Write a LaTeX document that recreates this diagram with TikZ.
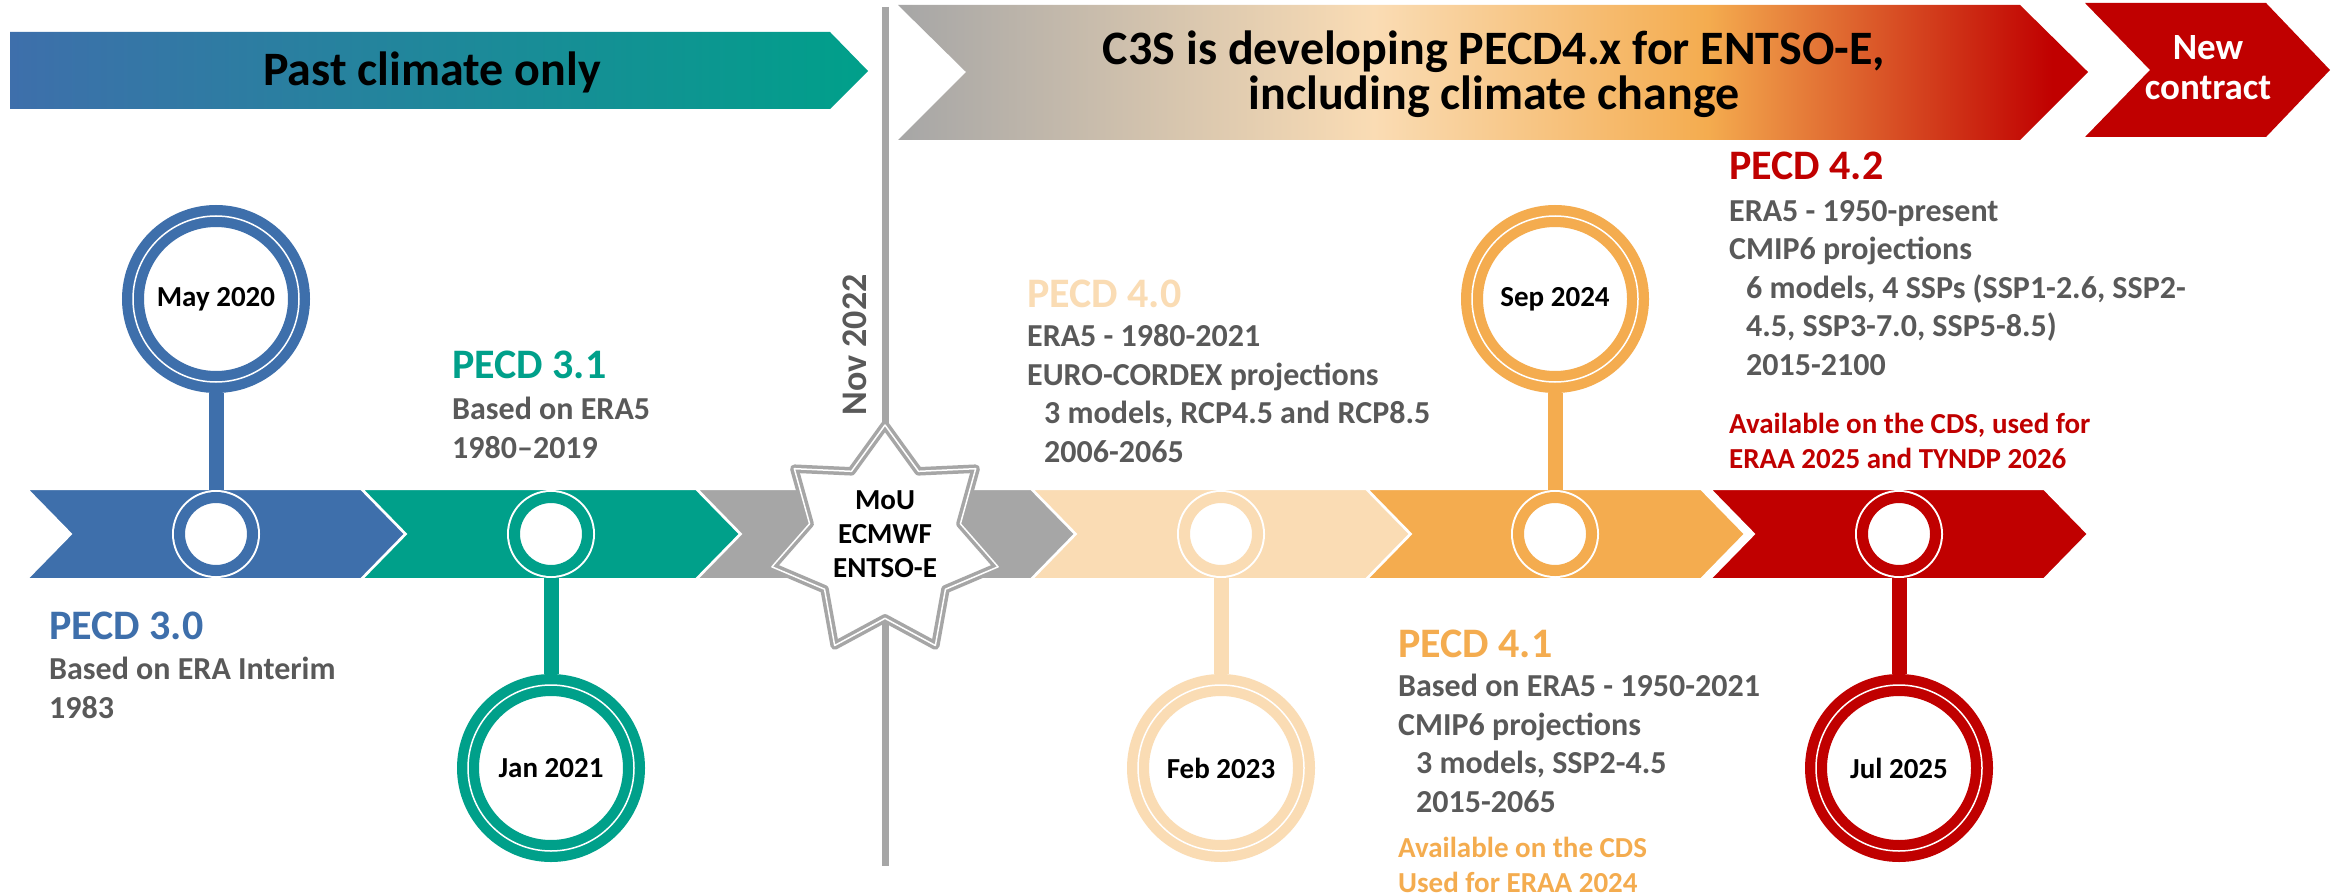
\documentclass[tikz,border=0pt]{standalone}
\usepackage{fontspec}
\setmainfont{Carlito}
\usetikzlibrary{shapes.geometric}

\definecolor{pblue}{HTML}{3E6FAB}
\definecolor{pteal}{HTML}{00A08A}
\definecolor{pgray}{HTML}{A6A6A6}
\definecolor{ppeach}{HTML}{FADCB4}
\definecolor{porange}{HTML}{F4AC4F}
\definecolor{pred}{HTML}{C00000}
\definecolor{txtgray}{HTML}{595959}

\pgfdeclarehorizontalshading{pastshade}{100bp}{color(0bp)=(pblue); color(25bp)=(pblue); color(75bp)=(pteal); color(100bp)=(pteal)}
\pgfdeclarehorizontalshading{climshade}{100bp}{color(0bp)=(pgray); color(25bp)=(pgray); color(45bp)=(ppeach); color(59bp)=(porange); color(73.5bp)=(pred); color(100bp)=(pred)}

\begin{document}
\begin{tikzpicture}[x=1pt,y=-1pt,
    chevron/.style={fill=#1,draw=white,line width=2},
    ring/.style={circle,minimum size=73,inner sep=0,fill=white,draw=white,
        double=#1,double distance=11,line width=2,outer sep=7.5},
    datecirc/.style={circle,minimum size=166,inner sep=0,fill=white,draw=#1,
        double=white,double distance=1.5,line width=10.25,outer sep=11,
        font=\fontsize{29}{35}\selectfont\bfseries},
    stalk/.style={draw=#1,line width=15},
    divider/.style={draw=pgray,line width=7},
    bannertext/.style={inner sep=0,align=center,anchor=base,
        font=\fontsize{48}{45}\selectfont\bfseries},
    pecdtitle/.style={anchor=base west,inner sep=0,text=#1,
        font=\fontsize{42}{50}\selectfont\bfseries},
    pecdbody/.style={anchor=base west,inner sep=0,align=left,text=txtgray,
        font=\fontsize{32}{38.5}\selectfont\bfseries},
    pecdnote/.style={anchor=base west,inner sep=0,align=left,text=#1,
        font=\fontsize{29}{35}\selectfont\bfseries}]
\useasboundingbox[fill=white] (0,0) rectangle (2333,896);

% multi-line nodes sit on the baseline of their last line
\shade[shading=pastshade] (10,32) -- (830,32) -- (868,71) -- (830,109) -- (10,109) -- cycle;
\shade[shading=climshade] (898,5) -- (2020,5) -- (2088,72) -- (2020,140) -- (898,140) -- (966,72) -- cycle;
\fill[pred] (2085,3) -- (2266,3) -- (2330,70) -- (2266,137) -- (2085,137) -- (2150,70) -- cycle;
\node[bannertext] (past) at (432,86) {Past climate only};
\node[bannertext] (c3s) at (1494,110) {C3S is developing PECD4.x for ENTSO-E,\\including climate change};
\node[bannertext,text=white,font=\fontsize{37}{40}\selectfont\bfseries] (newc) at (2208,100) {New\\contract};

\coordinate (divtop) at (885,7);
\coordinate (divbot) at (885,866);
\draw[divider] (divtop) -- (divbot);
\node[rotate=90,inner sep=0,text=txtgray,font=\fontsize{36}{40}\selectfont\bfseries] (nov) at (855,345) {Nov 2022};

\foreach \x/\c in {27/pblue,362/pteal,697/pgray,1032/ppeach,1367/porange,1710/pred}
  \draw[chevron=\c] (\x,489) -- ++(334,0) -- ++(44,45) -- ++(-44,45) -- ++(-334,0) -- ++(44,-45) -- cycle;

\node[star,star points=7,star point ratio=1.5,minimum size=232,inner sep=0,fill=white,
    draw=pgray,double=white,double distance=1.5,line width=3.5,line join=round] (mou) at (885,541) {};
\node[align=center,inner sep=0,font=\fontsize{29}{34}\selectfont\bfseries] (moutxt) at (885,534) {MoU\\ECMWF\\ENTSO-E};

\node[ring=pblue] (r30) at (216,534) {};
\node[ring=pteal] (r31) at (551,534) {};
\node[ring=ppeach] (r40) at (1221,534) {};
\node[ring=porange] (r41) at (1555,534) {};
\node[ring=pred] (r42) at (1899,534) {};

\node[datecirc=pblue] (may) at (216,299) {May 2020};
\node[datecirc=pteal] (jan) at (551,768) {Jan 2021};
\node[datecirc=ppeach] (feb) at (1221,768) {Feb 2023};
\node[datecirc=porange] (sep) at (1555,299) {Sep 2024};
\node[datecirc=pred] (jul) at (1899,768) {Jul 2025};

\draw[stalk=pblue] (may) -- (r30);
\draw[stalk=pteal] (r31) -- (jan);
\draw[stalk=ppeach] (r40) -- (feb);
\draw[stalk=porange] (sep) -- (r41);
\draw[stalk=pred] (r42) -- (jul);

\node[pecdtitle=pblue] (t30) at (49,639) {PECD 3.0};
\node[pecdbody] (b30) at (49,718) {Based on ERA Interim\\1983};

\node[pecdtitle=pteal] (t31) at (452,378) {PECD 3.1};
\node[pecdbody] (b31) at (452,458) {Based on ERA5\\1980--2019};

\node[pecdtitle=ppeach] (t40) at (1027,307) {PECD 4.0};
\node[pecdbody] (b40) at (1027,462) {ERA5 - 1980-2021\\EURO-CORDEX projections\\
    \hspace*{17pt}3 models, RCP4.5 and RCP8.5\\\hspace*{17pt}2006-2065};

\node[pecdtitle=porange] (t41) at (1398,657) {PECD 4.1};
\node[pecdbody] (b41) at (1398,812) {Based on ERA5 - 1950-2021\\CMIP6 projections\\
    \hspace*{18pt}3 models, SSP2-4.5\\\hspace*{18pt}2015-2065};
\node[pecdnote=porange] (n41) at (1398,892) {Available on the CDS\\Used for ERAA 2024};

\node[pecdtitle=pred] (t42) at (1729,180) {PECD 4.2};
\node[pecdbody] (b42) at (1729,375) {ERA5 - 1950-present\\CMIP6 projections\\
    \hspace*{17pt}6 models, 4 SSPs (SSP1-2.6, SSP2-\\\hspace*{17pt}4.5, SSP3-7.0, SSP5-8.5)\\
    \hspace*{17pt}2015-2100};
\node[pecdnote=pred] (n42) at (1729,468) {Available on the CDS, used for\\ERAA 2025 and TYNDP 2026};
\end{tikzpicture}
\end{document}
